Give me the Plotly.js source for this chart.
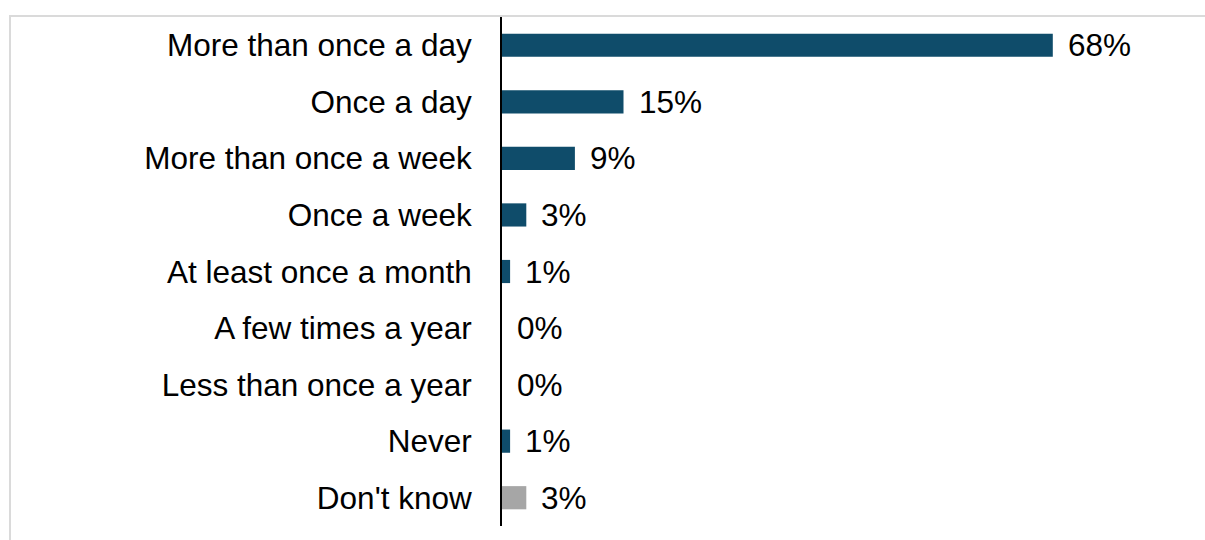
<!DOCTYPE html>
<html>
<head>
<meta charset="utf-8">
<script src="https://cdn.plot.ly/plotly-3.0.1.min.js"></script>
<style>
  html, body { margin: 0; padding: 0; background: #fff; }
  #wrap { position: relative; width: 1205px; height: 540px; overflow: hidden; }
  #chart { width: 1205px; height: 540px; }
  #frame { position: absolute; left: 9px; top: 15px; width: 1300px; height: 700px;
           border-top: 2px solid #DADADA; border-left: 2px solid #DADADA; pointer-events: none; }
</style>
</head>
<body>
<div id="wrap">
  <div id="chart"></div>
  <div id="frame"></div>
</div>
<script>
const categories = [
  "More than once a day",
  "Once a day",
  "More than once a week",
  "Once a week",
  "At least once a month",
  "A few times a year",
  "Less than once a year",
  "Never",
  "Don't know"
];
const values = [68, 15, 9, 3, 1, 0, 0, 1, 3];
const labels = ["68%", "15%", "9%", "3%", "1%", "0%", "0%", "1%", "3%"];
const barColors = ["#0F4C6A", "#0F4C6A", "#0F4C6A", "#0F4C6A", "#0F4C6A", "#0F4C6A", "#0F4C6A", "#0F4C6A", "#A6A6A6"];

const font = { family: "Liberation Sans, Arial, sans-serif", size: 31.5, color: "#000000" };

const trace = {
  type: "bar",
  orientation: "h",
  y: categories,
  x: values,
  marker: { color: barColors, line: { width: 0 } },
  hoverinfo: "none"
};

const annotations = categories.map((c, i) => ({
  x: values[i],
  y: c,
  xref: "x",
  yref: "y",
  text: labels[i],
  showarrow: false,
  xanchor: "left",
  yanchor: "middle",
  xshift: 13,
  font: font
}));

const layout = {
  width: 1205,
  height: 540,
  margin: { l: 502, r: 55, t: 17, b: 14, pad: 0 },
  paper_bgcolor: "rgba(0,0,0,0)",
  plot_bgcolor: "rgba(0,0,0,0)",
  bargap: 0.59,
  showlegend: false,
  xaxis: {
    range: [0, 80],
    showgrid: false,
    zeroline: false,
    showline: false,
    showticklabels: false,
    ticks: ""
  },
  yaxis: {
    type: "category",
    autorange: "reversed",
    showgrid: false,
    zeroline: false,
    showline: true,
    linecolor: "#000000",
    linewidth: 2,
    ticks: "",
    ticklabelstandoff: 22,
    tickfont: font
  },
  annotations: annotations
};

Plotly.newPlot("chart", [trace], layout, { displayModeBar: false, staticPlot: true });
</script>
</body>
</html>
